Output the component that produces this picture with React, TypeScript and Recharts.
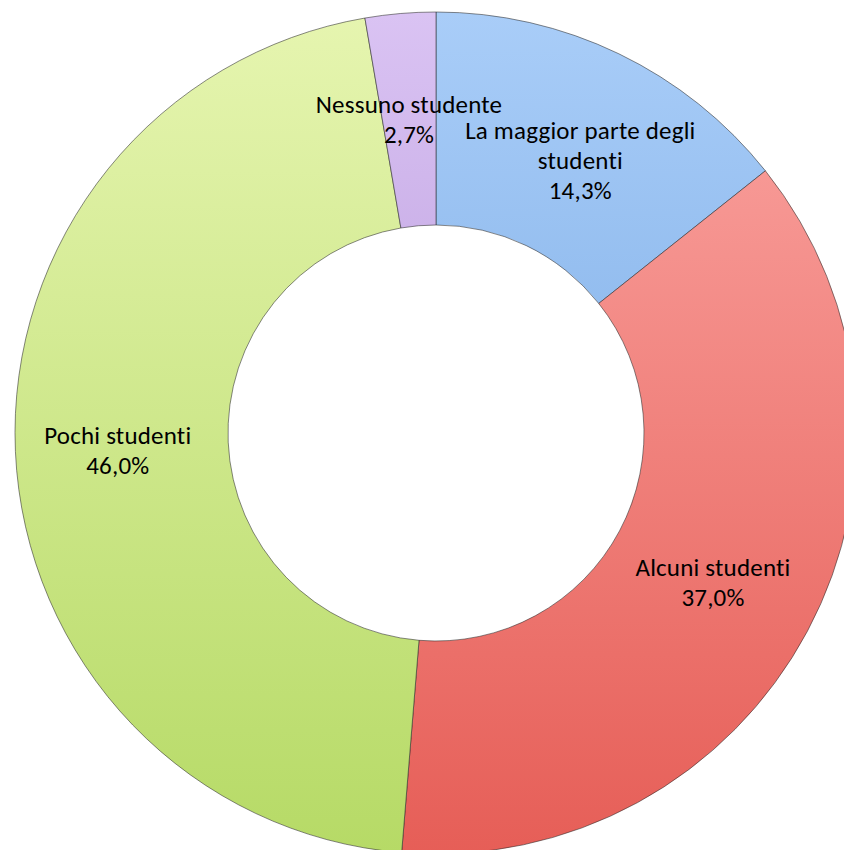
import { PieChart, Pie, Cell } from "recharts";

const categories = [
  "La maggior parte degli studenti",
  "Alcuni studenti",
  "Pochi studenti",
  "Nessuno studente",
];
const shares = [14.3, 37.0, 46.0, 2.7];

// top / bottom colours of the vertical gradient for each slice
const topColors = ["#a9cdf8", "#fba6a3", "#e6f5b0", "#dac3f3"];
const bottomColors = ["#6a9fde", "#e65e57", "#b6da66", "#a785cf"];

const data = categories.map((name, i) => ({ name, value: shares[i] }));

const FONT = "Carlito, Lato, 'Open Sans', sans-serif";

// small hand nudges so labels sit like in the original
const nudge: Record<string, [number, number]> = {
  "La maggior parte degli studenti": [6, 11],
  "Alcuni studenti": [-4, -4],
};

function wrap(text: string, max = 22) {
  const lines: string[] = [];
  let cur = "";
  for (const w of text.split(" ")) {
    const next = cur ? cur + " " + w : w;
    if (next.length > max && cur) {
      lines.push(cur);
      cur = w;
    } else {
      cur = next;
    }
  }
  if (cur) lines.push(cur);
  return lines;
}

function renderLabel(props: any) {
  const { cx, cy, midAngle, innerRadius, outerRadius, name, value } = props;
  const r = (innerRadius + outerRadius) / 2 + 4;
  const rad = (Math.PI / 180) * midAngle;
  const [nx, ny] = nudge[name] ?? [0, 0];
  const x = cx + r * Math.cos(rad) + nx;
  const y = cy - r * Math.sin(rad) + ny;
  const lines = [...wrap(name), value.toFixed(1).replace(".", ",") + "%"];
  const lh = 30;
  const y0 = y - ((lines.length - 1) * lh) / 2 + 12;
  return (
    <text
      x={x}
      y={y0}
      textAnchor="middle"
      fill="#000"
      fontSize={25}
      letterSpacing={0.2}
      fontFamily={FONT}
    >
      {lines.map((l, i) => (
        <tspan key={i} x={x} y={y0 + i * lh}>
          {l}
        </tspan>
      ))}
    </text>
  );
}

export default function App() {
  return (
    <div style={{ position: "absolute", left: 0, top: 0, background: "#fff" }}>
      <PieChart width={844} height={850} margin={{ top: 0, right: 0, bottom: 0, left: 0 }}>
        <defs>
          {categories.map((_, i) => (
            <linearGradient
              key={i}
              id={`g${i}`}
              gradientUnits="userSpaceOnUse"
              x1={0}
              y1={12}
              x2={0}
              y2={854}
            >
              <stop offset="0%" stopColor={topColors[i]} />
              <stop offset="100%" stopColor={bottomColors[i]} />
            </linearGradient>
          ))}
        </defs>
        <Pie
          data={data}
          dataKey="value"
          nameKey="name"
          cx={436}
          cy={433}
          innerRadius={208}
          outerRadius={421}
          startAngle={90}
          endAngle={-270}
          stroke="rgba(40,40,40,0.55)"
          strokeWidth={1}
          label={renderLabel}
          labelLine={false}
          isAnimationActive={false}
        >
          {data.map((d, i) => (
            <Cell key={d.name} fill={`url(#g${i})`} />
          ))}
        </Pie>
      </PieChart>
    </div>
  );
}
